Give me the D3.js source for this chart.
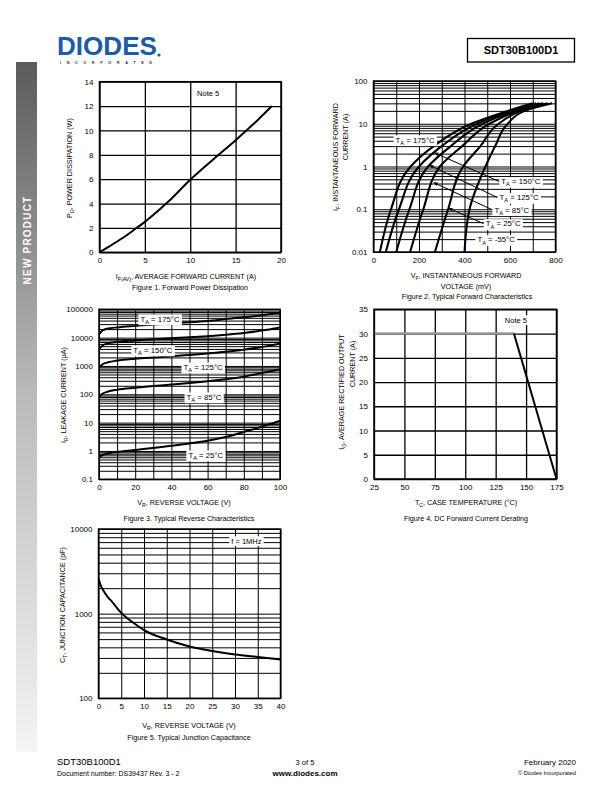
<!DOCTYPE html>
<html><head><meta charset="utf-8">
<script src="https://cdn.jsdelivr.net/npm/d3@7"></script>
<style>body{margin:0;background:#fff} svg{display:block}</style>
</head><body>
<script>
// ================= DATA =================
// Figure 1 – Forward Power Dissipation
const fig1Current = [0, 1, 2.5, 4, 5, 7.5, 10, 12.5, 15, 17.5, 19];
const fig1Power   = [0, 0.45, 1.15, 1.95, 2.5, 4.1, 5.95, 7.6, 9.2, 10.9, 12];
const fig1XTicks = [0, 5, 10, 15, 20];
const fig1YTicks = [0, 2, 4, 6, 8, 10, 12, 14];

// Figure 2 – Typical Forward Characteristics (V in mV at each current level in A)
const fig2Temps   = ["175", "150", "125", "85", "25", "-55"];
const fig2Current = [0.01, 0.1, 1, 3, 10, 20, 30];
const fig2V175 = [28, 77, 163, 265, 430, 590, 700];
const fig2V150 = [54, 112, 200, 300, 455, 605, 715];
const fig2V125 = [100, 158, 240, 340, 480, 620, 730];
const fig2V85  = [161, 219, 292, 390, 510, 635, 745];
const fig2V25  = [270, 328, 394, 470, 550, 650, 765];
const fig2Vm55 = [400, 422, 492, 535, 590, 665, 785];
const fig2XTicks = [0, 200, 400, 600, 800];
const fig2XGrid  = [0, 100, 200, 300, 400, 500, 600, 700, 800];
const fig2YTicks = [0.01, 0.1, 1, 10, 100];
const fig2YTickLabels = ["0.01", "0.1", "1", "10", "100"];
const fig2LabelV = [183, 648, 640, 608, 570, 539];
const fig2LabelI = [4.19, 0.445, 0.188, 0.097, 0.0458, 0.0194];
const fig2PointerI = [null, 2.1, 1.07, 0.42, 0.106, null];

// Figure 3 – Typical Reverse Characteristics (µA)
const fig3Voltage = [0, 2, 5, 10, 20, 30, 40, 50, 60, 70, 80, 90, 100];
const fig3I175 = [13000, 18000, 21000, 23000, 26000, 29000, 32000, 35000, 39000, 45000, 52000, 62000, 76000];
const fig3I150 = [3900, 5300, 6300, 7000, 7900, 8700, 9500, 10300, 11300, 12700, 14700, 17800, 23000];
const fig3I125 = [880, 1150, 1350, 1550, 1800, 2000, 2200, 2450, 2750, 3150, 3750, 4700, 6100];
const fig3I85  = [82, 105, 125, 145, 170, 195, 220, 250, 290, 340, 420, 560, 760];
const fig3I25  = [0.62, 0.72, 0.82, 0.93, 1.08, 1.28, 1.53, 1.85, 2.3, 3.1, 4.7, 7.2, 11.7];
const fig3Temps = ["175", "150", "125", "85", "25"];
const fig3LabelV = [33.7, 29.8, 57.5, 58, 59];
const fig3LabelI = [45700, 3630, 910, 80, 0.72];
const fig3XTicks = [0, 20, 40, 60, 80, 100];
const fig3XGrid  = [0, 10, 20, 30, 40, 50, 60, 70, 80, 90, 100];
const fig3YTicks = [0.1, 1, 10, 100, 1000, 10000, 100000];
const fig3YTickLabels = ["0.1", "1", "10", "100", "1000", "10000", "100000"];

// Figure 4 – DC Forward Current Derating
const fig4Temp    = [25, 140, 175];
const fig4Current = [30, 30, 0];
const fig4XTicks = [25, 50, 75, 100, 125, 150, 175];
const fig4YTicks = [0, 5, 10, 15, 20, 25, 30, 35];

// Figure 5 – Typical Junction Capacitance (pF)
const fig5Voltage = [0, 0.5, 1, 2, 3, 5, 7.5, 10, 15, 20, 25, 30, 35, 40];
const fig5Cap     = [2600, 2150, 1900, 1580, 1380, 1020, 790, 640, 495, 410, 362, 330, 308, 288];
const fig5XTicks = [0, 5, 10, 15, 20, 25, 30, 35, 40];
const fig5YTicks = [100, 1000, 10000];
const fig5YTickLabels = ["100", "1000", "10000"];

// ================= DRAWING =================
const FONT = "'Liberation Sans', Arial, Helvetica, sans-serif";
const svg = d3.select("body").append("svg")
  .attr("width", 612).attr("height", 792).attr("font-family", FONT);
svg.append("rect").attr("width", 612).attr("height", 792).attr("fill", "#fff");
const defs = svg.append("defs");

// ---- header ----
svg.append("text").attr("x", 57).attr("y", 55).attr("font-size", 26).attr("font-weight", "bold")
  .attr("fill", "#1d5ba8").attr("textLength", 100).attr("lengthAdjust", "spacingAndGlyphs").text("DIODES");
svg.append("text").attr("x", 60).attr("y", 63.5).attr("font-size", 3.8).attr("font-weight", "bold")
  .attr("fill", "#333").attr("textLength", 92).attr("lengthAdjust", "spacing").text("INCORPORATED");
svg.append("circle").attr("cx", 159).attr("cy", 55).attr("r", 1.6).attr("fill", "#1d5ba8");
svg.append("rect").attr("x", 467.5).attr("y", 38.5).attr("width", 107).attr("height", 23.5)
  .attr("fill", "none").attr("stroke", "#000").attr("stroke-width", 1.3);
svg.append("text").attr("x", 521).attr("y", 54).attr("text-anchor", "middle").attr("font-size", 11)
  .attr("font-weight", "bold").text("SDT30B100D1");

// ---- side bar ----
const grad = defs.append("linearGradient").attr("id", "side").attr("x1", 0).attr("y1", 0).attr("x2", 0).attr("y2", 1);
grad.append("stop").attr("offset", "0%").attr("stop-color", "#5b5b5b");
grad.append("stop").attr("offset", "48%").attr("stop-color", "#bababa");
grad.append("stop").attr("offset", "100%").attr("stop-color", "#f4f4f4");
svg.append("rect").attr("x", 16).attr("y", 62).attr("width", 21).attr("height", 690).attr("fill", "url(#side)");
svg.append("text").attr("transform", "translate(30.5,240) rotate(-90)").attr("text-anchor", "middle")
  .attr("fill", "#fff").attr("font-weight", "bold").attr("font-size", 10).attr("letter-spacing", 1.2)
  .text("NEW PRODUCT");

// ---- footer ----
svg.append("text").attr("x", 57).attr("y", 765).attr("font-size", 9.5).text("SDT30B100D1");
svg.append("text").attr("x", 57).attr("y", 775.5).attr("font-size", 7).text("Document number: DS39437 Rev. 3 - 2");
svg.append("text").attr("x", 305).attr("y", 764.5).attr("text-anchor", "middle").attr("font-size", 7.5).text("3 of 5");
svg.append("text").attr("x", 305).attr("y", 775.5).attr("text-anchor", "middle").attr("font-size", 8).attr("font-weight", "bold").text("www.diodes.com");
svg.append("text").attr("x", 576).attr("y", 765).attr("text-anchor", "end").attr("font-size", 8).text("February 2020");
svg.append("text").attr("x", 576).attr("y", 774.5).attr("text-anchor", "end").attr("font-size", 5.8).text("\u00A9 Diodes Incorporated");

// ---- helpers ----
function richText(g, x, y, parts, o = {}) {
  const size = o.size || 7.2;
  const t = g.append("text").attr("x", x).attr("y", y).attr("font-size", size)
    .attr("text-anchor", o.anchor || "middle").attr("fill", "#000");
  if (o.rotate) t.attr("transform", `rotate(-90,${x},${y})`);
  let prevSub = false;
  parts.forEach(p => {
    const sub = Array.isArray(p);
    const s = sub ? p[0] : p;
    const ts = t.append("tspan").text(s);
    if (sub) { ts.attr("font-size", size * 0.72); if (!prevSub) ts.attr("dy", size * 0.28); }
    else if (prevSub) ts.attr("dy", -size * 0.28);
    prevSub = sub;
  });
  return t;
}
function boxed(g, x, y, parts, size) {
  const t = richText(g, x, y + size * 0.35, parts, { size });
  const bb = t.node().getBBox();
  g.insert("rect", () => t.node()).attr("x", bb.x - 2).attr("y", bb.y - 0.3)
    .attr("width", bb.width + 4).attr("height", bb.height + 0.6).attr("fill", "#fff");
  return bb;
}
let clipId = 0;
function panel(o) {
  const g = svg.append("g");
  const [X0, X1] = o.x.range();
  const [Yb, Yt] = o.y.range();
  const gw = o.gridW || 1.1;
  g.append("g").attr("transform", `translate(0,${Yb})`)
    .call(d3.axisBottom(o.x).tickValues(o.xGrid).tickSize(-(Yb - Yt)).tickFormat(""))
    .call(s => s.select(".domain").remove())
    .call(s => s.selectAll("line").attr("stroke", "#000").attr("stroke-width", gw));
  g.append("g").attr("transform", `translate(${X0},0)`)
    .call(d3.axisLeft(o.y).tickValues(o.yGrid).tickSize(-(X1 - X0)).tickFormat(""))
    .call(s => s.select(".domain").remove())
    .call(s => s.selectAll("line").attr("stroke", "#000").attr("stroke-width", gw));
  g.append("g").attr("transform", `translate(0,${Yb})`)
    .call(d3.axisBottom(o.x).tickValues(o.xTicks).tickSize(0).tickPadding(5).tickFormat(o.xFmt || (d => d)))
    .call(s => s.select(".domain").remove())
    .attr("font-family", FONT).attr("font-size", 8)
    .call(s => s.selectAll("text").attr("fill", "#000"));
  g.append("g").attr("transform", `translate(${X0},0)`)
    .call(d3.axisLeft(o.y).tickValues(o.yTicks).tickSize(0).tickPadding(6).tickFormat(o.yFmt || (d => d)))
    .call(s => s.select(".domain").remove())
    .attr("font-family", FONT).attr("font-size", 8)
    .call(s => s.selectAll("text").attr("fill", "#000"));
  const id = "clip" + (clipId++);
  defs.append("clipPath").attr("id", id).append("rect")
    .attr("x", X0).attr("y", Yt).attr("width", X1 - X0).attr("height", Yb - Yt);
  const plot = g.append("g").attr("clip-path", `url(#${id})`);
  const top = g.append("g");
  g.append("rect").attr("x", X0).attr("y", Yt).attr("width", X1 - X0).attr("height", Yb - Yt)
    .attr("fill", "none").attr("stroke", "#000").attr("stroke-width", 1.5);
  return { g, plot, top };
}

// ================= FIGURE 1 =================
{
  const x = d3.scaleLinear().domain([0, 20]).range([99.5, 281]);
  const y = d3.scaleLinear().domain([0, 14]).range([252.3, 81.7]);
  const p = panel({ x, y, xGrid: fig1XTicks, yGrid: fig1YTicks, xTicks: fig1XTicks, yTicks: fig1YTicks, gridW: 1.3 });
  const pts = fig1Current.map((c, i) => [c, fig1Power[i]]);
  p.plot.append("path").datum(pts)
    .attr("d", d3.line().x(d => x(d[0])).y(d => y(d[1])).curve(d3.curveMonotoneX))
    .attr("fill", "none").attr("stroke", "#000").attr("stroke-width", 2);
  richText(p.g, x(11.97), y(13) + 2.6, ["Note 5"], { size: 7.5 });
  richText(p.g, 186, 278.5, ["I", ["F(AV)"], ", AVERAGE FORWARD CURRENT (A)"], { size: 7.2 });
  richText(p.g, 190, 290, ["Figure 1. Forward Power Dissipation"], { size: 7.2 });
  richText(p.g, 71.5, 168, ["P", ["D"], ", POWER DISSIPATION (W)"], { size: 7.2, rotate: true });
}

// ================= FIGURE 2 =================
{
  const x = d3.scaleLinear().domain([0, 800]).range([373.5, 555.5]);
  const y = d3.scaleLog().domain([0.01, 100]).range([252, 81]);
  const p = panel({ x, y, xGrid: fig2XGrid, yGrid: y.ticks(), xTicks: fig2XTicks, yTicks: fig2YTicks,
    yFmt: (d, i) => fig2YTickLabels[i], gridW: 1 });
  const series = [fig2V175, fig2V150, fig2V125, fig2V85, fig2V25, fig2Vm55];
  const line = d3.line().x(d => x(d[0])).y(d => y(d[1])).curve(d3.curveMonotoneY);
  series.forEach(vs => {
    const pts = fig2Current.map((c, i) => [vs[i], c]).reverse();
    p.plot.append("path").datum(pts).attr("d", line)
      .attr("fill", "none").attr("stroke", "#000").attr("stroke-width", 2.1);
  });
  defs.append("marker").attr("id", "arr").attr("viewBox", "0 0 6 6").attr("refX", 6).attr("refY", 3)
    .attr("markerWidth", 4).attr("markerHeight", 4).attr("orient", "auto")
    .append("path").attr("d", "M0,0L6,3L0,6Z").attr("fill", "#000");
  const vAt = (vs, I) => {
    const li = Math.log10(I);
    for (let i = 0; i < fig2Current.length - 1; i++) {
      const a = Math.log10(fig2Current[i]), b = Math.log10(fig2Current[i + 1]);
      if (li >= a && li <= b) return vs[i] + (vs[i + 1] - vs[i]) * (li - a) / (b - a);
    }
    return vs[0];
  };
  fig2Temps.forEach((t, i) => {
    const lx = x(fig2LabelV[i]), ly = y(fig2LabelI[i]);
    const grp = p.top.append("g");
    const bb = boxed(grp, lx, ly, ["T", ["A"], " = " + t + "\u00B0C"], 7.8);
    if (fig2PointerI[i] !== null) {
      const I = fig2PointerI[i];
      grp.insert("line", ":first-child").attr("x1", bb.x - 2).attr("y1", ly).attr("x2", x(vAt(series[i], I))).attr("y2", y(I))
        .attr("stroke", "#000").attr("stroke-width", 1).attr("marker-end", "url(#arr)");
    }
  });
  richText(p.g, 466, 278, ["V", ["F"], ", INSTANTANEOUS FORWARD"], { size: 7.2 });
  richText(p.g, 466, 289, ["VOLTAGE (mV)"], { size: 7.2 });
  richText(p.g, 467, 299, ["Figure 2. Typical Forward Characteristics"], { size: 7.2 });
  richText(p.g, 337.5, 157, ["I", ["F"], ", INSTANTANEOUS FORWARD"], { size: 7.2, rotate: true });
  richText(p.g, 348, 137, ["CURRENT (A)"], { size: 7.2, rotate: true });
}

// ================= FIGURE 3 =================
{
  const x = d3.scaleLinear().domain([0, 100]).range([99, 280]);
  const y = d3.scaleLog().domain([0.1, 100000]).range([479.3, 309.3]);
  const p = panel({ x, y, xGrid: fig3XGrid, yGrid: y.ticks(), xTicks: fig3XTicks, yTicks: fig3YTicks,
    yFmt: (d, i) => fig3YTickLabels[i], gridW: 1 });
  const series = [fig3I175, fig3I150, fig3I125, fig3I85, fig3I25];
  const line = d3.line().x(d => x(d[0])).y(d => y(d[1])).curve(d3.curveMonotoneX);
  series.forEach(is => {
    p.plot.append("path").datum(fig3Voltage.map((v, i) => [v, is[i]])).attr("d", line)
      .attr("fill", "none").attr("stroke", "#000").attr("stroke-width", 2);
  });
  fig3Temps.forEach((t, i) => boxed(p.top, x(fig3LabelV[i]), y(fig3LabelI[i]), ["T", ["A"], " = " + t + "\u00B0C"], 7.8));
  richText(p.g, 184, 504.5, ["V", ["R"], ", REVERSE VOLTAGE (V)"], { size: 7.2 });
  richText(p.g, 189, 520.5, ["Figure 3. Typical Reverse Characteristics"], { size: 7.2 });
  richText(p.g, 65.5, 395, ["I", ["R"], ", LEAKAGE CURRENT (\u00B5A)"], { size: 7.2, rotate: true });
}

// ================= FIGURE 4 =================
{
  const x = d3.scaleLinear().domain([25, 175]).range([374, 556.5]);
  const y = d3.scaleLog ? d3.scaleLinear().domain([0, 35]).range([479, 309.3]) : null;
  const p = panel({ x, y, xGrid: fig4XTicks, yGrid: fig4YTicks, xTicks: fig4XTicks, yTicks: fig4YTicks, gridW: 1.3 });
  const pts = fig4Temp.map((t, i) => [t, fig4Current[i]]);
  const line = d3.line().x(d => x(d[0])).y(d => y(d[1]));
  p.plot.append("path").datum(pts.slice(0, 2)).attr("d", line)
    .attr("fill", "none").attr("stroke", "#9a9a9a").attr("stroke-width", 2.6);
  p.plot.append("path").datum(pts.slice(1)).attr("d", line)
    .attr("fill", "none").attr("stroke", "#000").attr("stroke-width", 2);
  boxed(p.top, x(141.6), y(32.8), ["Note 5"], 7.5);
  richText(p.g, 466, 504.5, ["T", ["C"], ", CASE TEMPERATURE (\u00B0C)"], { size: 7.2 });
  richText(p.g, 466, 520.5, ["Figure 4. DC Forward Current Derating"], { size: 7.2 });
  richText(p.g, 344, 392, ["I", ["O"], ", AVERAGE RECTIFIED OUTPUT"], { size: 7.2, rotate: true });
  richText(p.g, 355, 364, ["CURRENT (A)"], { size: 7.2, rotate: true });
}

// ================= FIGURE 5 =================
{
  const x = d3.scaleLinear().domain([0, 40]).range([98.5, 280.5]);
  const y = d3.scaleLog().domain([100, 10000]).range([698.3, 529]);
  const p = panel({ x, y, xGrid: fig5XTicks, yGrid: y.ticks(), xTicks: fig5XTicks, yTicks: fig5YTicks,
    yFmt: (d, i) => fig5YTickLabels[i], gridW: 1 });
  p.plot.append("path").datum(fig5Voltage.map((v, i) => [v, fig5Cap[i]]))
    .attr("d", d3.line().x(d => x(d[0])).y(d => y(d[1])).curve(d3.curveMonotoneX))
    .attr("fill", "none").attr("stroke", "#000").attr("stroke-width", 2);
  boxed(p.top, x(32.5), y(7215), ["f = 1MHz"], 7.5);
  richText(p.g, 189, 728, ["V", ["R"], ", REVERSE VOLTAGE (V)"], { size: 7.2 });
  richText(p.g, 189, 739.5, ["Figure 5. Typical Junction Capacitance"], { size: 7.2 });
  richText(p.g, 64.5, 605, ["C", ["T"], ", JUNCTION CAPACITANCE (pF)"], { size: 7.2, rotate: true });
}
</script>
</body></html>
